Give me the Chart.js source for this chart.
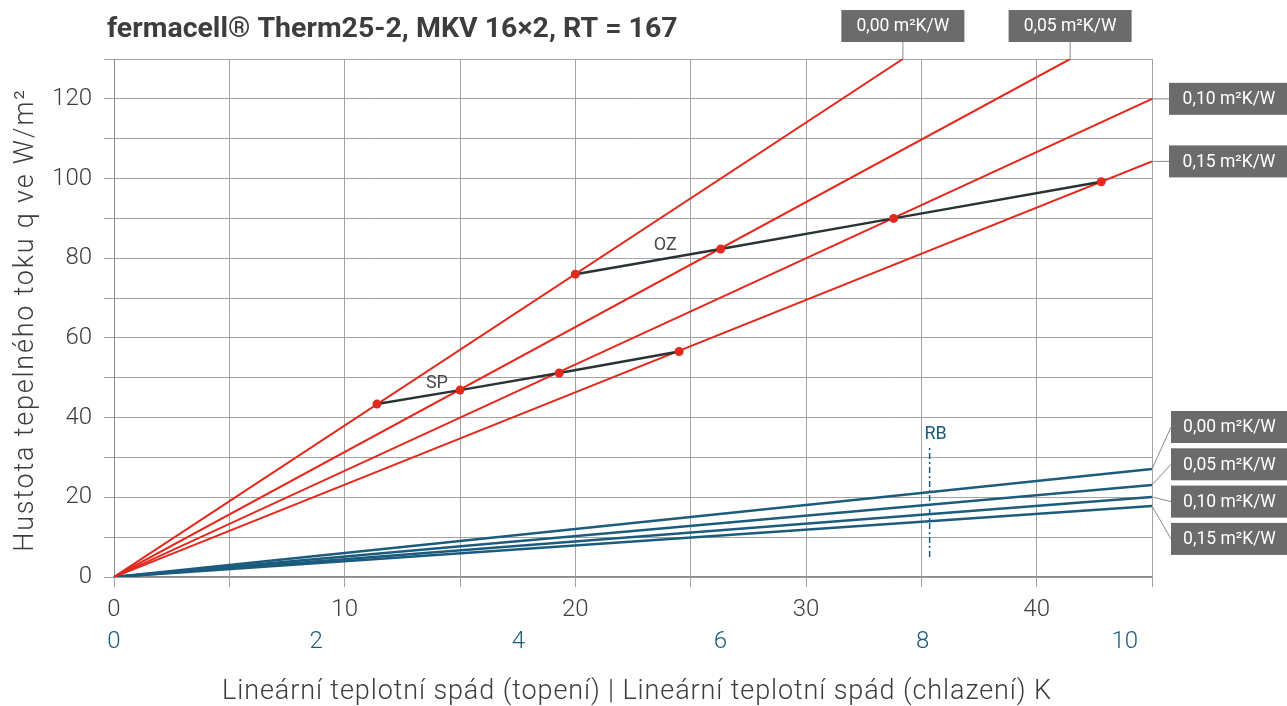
<!DOCTYPE html>
<html>
<head>
<meta charset="utf-8">
<script src="https://cdn.jsdelivr.net/npm/chart.js@4.4.1/dist/chart.umd.min.js"></script>
<style>
  html, body { margin: 0; padding: 0; background: #fff; }
  canvas { display: block; }
</style>
</head>
<body>
<canvas id="chart" width="1287" height="706"></canvas>
<script>
// Thermal resistance of the floor covering, one line per value
const resistances = ['0,00 m²K/W', '0,05 m²K/W', '0,10 m²K/W', '0,15 m²K/W'];

// Heating lines (topení): from the origin to where each line leaves the plot
const heatEndK = [34.2, 41.45, 45, 45];
const heatEndQ = [130, 130, 120, 104.3];

// Operating-point curves on the heating lines
const ozK = [20.0, 26.3, 33.8, 42.8];
const ozQ = [76.0, 82.3, 90.0, 99.2];
const spK = [11.4, 15.0, 19.3, 24.5];
const spQ = [43.4, 46.9, 51.2, 56.6];

// Cooling lines (chlazení), drawn against the cooling axis
const coolAxisMax = 10.27;
const coolEndQ = [27.1, 23.1, 20.1, 17.8];

// Dew-point limit (RB) on the cooling axis
const rbK = 8.07;
const rbQ = [5, 33];

// Axis ranges and labelled ticks
const heatAxisMax = 45;
const qAxisMax = 130;
const heatTickLabels = [0, 10, 20, 30, 40];
const coolTickLabels = [0, 2, 4, 6, 8, 10];
const qTickLabels = [0, 20, 40, 60, 80, 100, 120];

const heading = 'fermacell® Therm25-2, MKV 16×2, RT = 167';
const xTitle = 'Lineární teplotní spád (topení) | Lineární teplotní spád (chlazení) K';
const yTitle = 'Hustota tepelného toku q ve W/m²';

const RED = '#e3281d';
const BLUE = '#1b5b7d';
const DARK = '#2a3236';
const GREY_TEXT = '#3d3d3d';
const BOX = '#6b6b6b';
const FONT = 'Roboto, "Liberation Sans", sans-serif';

const datasets = [];

// cooling lines
coolEndQ.forEach((q, i) => {
  datasets.push({
    label: 'chlazení ' + resistances[i],
    xAxisID: 'x2', yAxisID: 'y',
    data: [{ x: 0, y: 0 }, { x: coolAxisMax, y: q }],
    borderColor: BLUE, borderWidth: 2.5, pointRadius: 0, order: 5
  });
});

// RB limit
datasets.push({
  label: 'RB',
  xAxisID: 'x2', yAxisID: 'y',
  data: [{ x: rbK, y: rbQ[0] }, { x: rbK, y: rbQ[1] }],
  borderColor: BLUE, borderWidth: 1.5, borderDash: [6, 3, 2, 3],
  pointRadius: 0, order: 5
});

// heating lines
heatEndK.forEach((k, i) => {
  datasets.push({
    label: 'topení ' + resistances[i],
    xAxisID: 'x', yAxisID: 'y',
    data: [{ x: 0, y: 0 }, { x: k, y: heatEndQ[i] }],
    borderColor: RED, borderWidth: 2, pointRadius: 0, order: 4
  });
});

// OZ and SP curves with their points
[[ozK, ozQ, 'OZ'], [spK, spQ, 'SP']].forEach(([ks, qs, name]) => {
  datasets.push({
    label: name,
    xAxisID: 'x', yAxisID: 'y',
    data: ks.map((k, i) => ({ x: k, y: qs[i] })),
    borderColor: DARK, borderWidth: 2.5,
    pointRadius: 4.5, pointBackgroundColor: RED, pointBorderColor: RED,
    pointBorderWidth: 0, order: 1
  });
});

function drawBox(ctx, left, top, w, h, text) {
  ctx.fillStyle = BOX;
  ctx.fillRect(left, top, w, h);
  ctx.fillStyle = '#ffffff';
  ctx.font = '400 17.5px ' + FONT;
  ctx.textAlign = 'center';
  ctx.textBaseline = 'middle';
  ctx.fillText(text, left + w / 2, top + h / 2 + 1);
}

const annotations = {
  id: 'annotations',
  afterDraw(chart) {
    const { ctx, chartArea } = chart;
    const { x, x2, y } = chart.scales;
    ctx.save();

    // heading
    ctx.fillStyle = GREY_TEXT;
    ctx.font = 'bold 28.5px ' + FONT;
    ctx.textAlign = 'left';
    ctx.textBaseline = 'alphabetic';
    ctx.fillText(heading, 107, 37);

    // axis titles
    ctx.font = '300 27px ' + FONT;
    ctx.textAlign = 'center';
    ctx.letterSpacing = '0.9px';
    ctx.fillText(xTitle, (chartArea.left + chartArea.right) / 2 + 4, 699);
    ctx.save();
    ctx.translate(33, (chartArea.top + chartArea.bottom) / 2 + 2);
    ctx.rotate(-Math.PI / 2);
    ctx.letterSpacing = '1.8px';
    ctx.fillText(yTitle, 0, 0);
    ctx.restore();
    ctx.letterSpacing = '0px';

    ctx.strokeStyle = '#8a8a8a';
    ctx.lineWidth = 1;

    // heating labels
    heatEndK.forEach((k, i) => {
      const px = x.getPixelForValue(k);
      const py = y.getPixelForValue(heatEndQ[i]);
      if (heatEndQ[i] >= qAxisMax) {
        const w = 123, h = 32;
        ctx.beginPath();
        ctx.moveTo(px, py - 17);
        ctx.lineTo(px, py);
        ctx.stroke();
        drawBox(ctx, px - w / 2, py - 49, w, h, resistances[i]);
      } else {
        const w = 120, h = 32;
        ctx.beginPath();
        ctx.moveTo(px, py);
        ctx.lineTo(px + 17, py);
        ctx.stroke();
        drawBox(ctx, px + 17, py - h / 2, w, h, resistances[i]);
      }
    });

    // cooling labels
    coolEndQ.forEach((q, i) => {
      const px = x2.getPixelForValue(coolAxisMax);
      const py = y.getPixelForValue(q);
      const left = px + 19, top = 411 + i * 37.3, w = 117, h = 32;
      ctx.strokeStyle = '#8a8a8a';
      ctx.beginPath();
      ctx.moveTo(px, py);
      ctx.lineTo(left, top + h / 2);
      ctx.stroke();
      drawBox(ctx, left, top, w, h, resistances[i]);
    });

    // curve names
    ctx.font = '400 18px ' + FONT;
    ctx.textAlign = 'center';
    ctx.textBaseline = 'middle';
    ctx.fillStyle = '#4a4a4a';
    ctx.fillText('OZ', x.getPixelForValue(23.9), y.getPixelForValue(83.2));
    ctx.fillText('SP', x.getPixelForValue(14.0), y.getPixelForValue(48.5));
    ctx.fillStyle = BLUE;
    ctx.fillText('RB', x2.getPixelForValue(rbK) + 6, y.getPixelForValue(35.8));

    ctx.restore();
  }
};

new Chart(document.getElementById('chart'), {
  type: 'line',
  data: { datasets },
  plugins: [annotations],
  options: {
    responsive: false,
    animation: false,
    layout: { padding: { left: 0, right: 135, top: 59, bottom: 0 } },
    plugins: { legend: { display: false }, tooltip: { enabled: false } },
    scales: {
      x: {
        type: 'linear', position: 'bottom',
        min: 0, max: heatAxisMax,
        afterFit: s => { s.height = 45; },
        ticks: {
          stepSize: 5, color: GREY_TEXT, padding: 9,
          font: { family: FONT, size: 24, weight: '300' },
          maxRotation: 0,
          callback: v => heatTickLabels.includes(v) ? String(v) : ''
        },
        grid: { color: '#a3a3a3', lineWidth: 1, tickLength: 10 },
        border: { color: '#8c8c8c', width: 1.5 }
      },
      x2: {
        type: 'linear', position: 'bottom',
        min: 0, max: coolAxisMax,
        afterFit: s => { s.height = 84; },
        ticks: {
          stepSize: 2, includeBounds: false, color: BLUE, padding: 6,
          font: { family: FONT, size: 24, weight: '300' },
          maxRotation: 0,
          callback: v => coolTickLabels.includes(v) ? String(v) : ''
        },
        grid: { display: false, drawTicks: false },
        border: { display: false }
      },
      y: {
        type: 'linear', position: 'left',
        min: 0, max: qAxisMax,
        afterFit: s => { s.width = 114; },
        ticks: {
          stepSize: 10, color: GREY_TEXT, padding: 12,
          font: { family: FONT, size: 24, weight: '300' },
          callback: v => qTickLabels.includes(v) ? String(v) : ''
        },
        grid: { color: '#a3a3a3', lineWidth: 1, tickLength: 10 },
        border: { color: '#8c8c8c', width: 1 }
      }
    }
  }
});
</script>
</body>
</html>
